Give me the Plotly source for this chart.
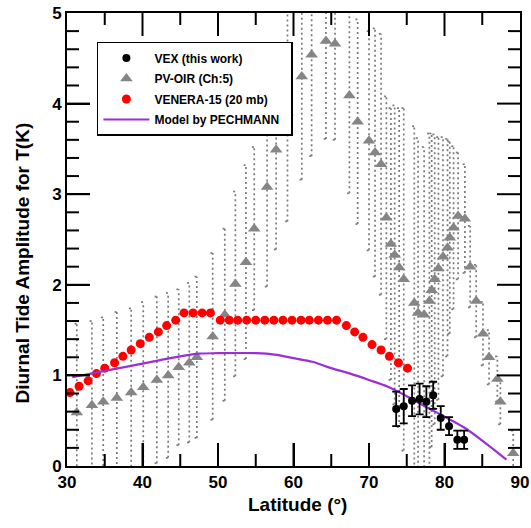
import plotly.graph_objects as go

# ---------------- data ----------------
# PV-OIR (Ch:5): latitude, amplitude, (symmetric) uncertainty
pv_lat = [31.3, 33.3, 34.8, 36.6, 38.5, 40.1, 41.9, 43.4, 44.8, 46.2, 47.2, 49.3, 50.9, 52.3,
          53.7, 54.8, 56.5, 57.7, 59.2, 61.1, 62.4, 64.3, 65.5, 67.4, 68.5, 70.0, 70.8, 71.6,
          72.3, 72.9, 73.4, 74.0, 74.6, 76.0, 76.5, 77.3, 78.0, 78.3, 78.7, 79.2, 79.8, 80.4,
          80.7, 81.2, 81.8, 82.7, 83.4, 84.2, 85.1, 85.9, 87.0, 87.4, 89.1]
pv_amp = [0.59, 0.67, 0.71, 0.75, 0.81, 0.87, 0.95, 1.00, 1.09, 1.14, 1.20, 1.43, 1.67, 2.01,
          2.25, 2.62, 3.08, 3.49, 3.90, 4.30, 4.54, 4.69, 4.66, 4.09, 3.80, 3.59, 3.46, 3.33,
          2.74, 2.45, 2.33, 2.19, 2.06, 1.80, 1.69, 1.67, 1.82, 1.94, 2.06, 2.18, 2.31, 2.41,
          2.52, 2.63, 2.76, 2.73, 2.20, 1.82, 1.46, 1.20, 0.96, 0.71, 0.14]
pv_err = [0.98, 0.93, 0.93, 0.95, 0.93, 0.94, 0.92, 0.91, 0.86, 0.88, 0.89, 0.92, 0.95, 1.02,
          1.07, 0.90, 1.10, 1.10, 1.20, 1.14, 1.12, 1.08, 1.06, 1.08, 1.13, 1.21, 1.37, 1.44,
          1.34, 1.50, 1.65, 1.76, 1.89, 1.95, 1.93, 1.85, 1.85, 1.73, 1.60, 1.45, 1.32, 1.20,
          1.06, 0.90, 0.70, 0.60, 0.45, 0.40, 0.35, 0.30, 0.25, 0.25, 0.25]

# VENERA-15 (20 mb)
ven_lat = [30.4, 31.6, 32.8, 33.9, 35.0, 36.3, 37.4, 38.5, 39.7, 40.9, 42.1, 43.2, 44.4, 45.5,
           46.7, 47.9, 49.0, 50.3, 51.5, 52.6, 53.8, 55.0, 56.2, 57.4, 58.6, 59.8, 61.0, 62.1,
           63.3, 64.5, 65.7, 67.0, 68.1, 69.2, 70.4, 71.6, 72.7, 73.9, 75.1]
ven_amp = [0.81, 0.88, 0.94, 1.02, 1.08, 1.14, 1.21, 1.28, 1.35, 1.42, 1.48, 1.55, 1.61, 1.69,
           1.69, 1.69, 1.69, 1.61, 1.61, 1.61, 1.61, 1.61, 1.61, 1.61, 1.61, 1.61, 1.61, 1.61,
           1.61, 1.61, 1.61, 1.55, 1.48, 1.42, 1.34, 1.28, 1.21, 1.14, 1.08]

# Model by PECHMANN
mod_lat = [30.7, 35.0, 40.0, 45.0, 47.5, 50.0, 55.0, 57.5, 60.0, 62.5, 65.0, 67.5, 70.0,
           72.5, 75.0, 77.5, 80.0, 82.5, 85.0, 88.2]
mod_amp = [0.98, 1.05, 1.13, 1.21, 1.24, 1.245, 1.245, 1.23, 1.19, 1.15, 1.08, 1.02, 0.95,
           0.875, 0.77, 0.655, 0.545, 0.43, 0.28, 0.07]

# VEX (this work)
vex_lat = [73.6, 74.6, 75.7, 76.7, 77.6, 78.5, 79.5, 80.6, 81.7, 82.6]
vex_amp = [0.63, 0.66, 0.72, 0.74, 0.71, 0.78, 0.53, 0.44, 0.29, 0.29]
vex_err = [0.19, 0.19, 0.17, 0.17, 0.17, 0.15, 0.13, 0.10, 0.10, 0.10]

x_ticks = [30, 40, 50, 60, 70, 80, 90]
y_ticks = [0, 1, 2, 3, 4, 5]
x_minor_step = 5
y_minor_step = 0.2
X_RANGE = [30, 90]
Y_RANGE = [0, 5]
FONT = "Liberation Sans"

W, H = 531, 528
M = dict(l=67, r=11, t=13, b=62)
PW = W - M["l"] - M["r"]
PH = H - M["t"] - M["b"]
MAJOR_LEN, MINOR_LEN = 23, 12

# ---------------- figure ----------------
fig = go.Figure()

# dotted error bars of PV-OIR (built from the data arrays)
bx, by = [], []
cap = 0.3
for la, am, er in zip(pv_lat, pv_amp, pv_err):
    lo, hi = am - er, am + er
    bx += [la, la, None, la - cap, la + cap, None, la - cap, la + cap, None]
    by += [lo, hi, None, lo, lo, None, hi, hi, None]
fig.add_trace(go.Scatter(x=bx, y=by, mode="lines", showlegend=False, hoverinfo="skip",
                         line=dict(color="#7a7a7a", width=1.7, dash="2px,3px")))

fig.add_trace(go.Scatter(x=pv_lat, y=pv_amp, mode="markers", name="<b>PV-OIR (Ch:5)</b>",
                         legendrank=2, legendgroup="b",
                         marker=dict(symbol="triangle-up", size=11, color="#858585")))

fig.add_trace(go.Scatter(x=ven_lat, y=ven_amp, mode="markers",
                         name="<b>VENERA-15 (20 mb)</b>",
                         legendrank=3, legendgroup="c",
                         marker=dict(symbol="circle", size=9, color="#FF0000")))

fig.add_trace(go.Scatter(x=mod_lat, y=mod_amp, mode="lines",
                         name="<b>Model by PECHMANN</b>\u00a0\u00a0",
                         legendrank=4, legendgroup="d",
                         line=dict(color="#9B2FD6", width=2.2, shape="spline")))

fig.add_trace(go.Scatter(x=vex_lat, y=vex_amp, mode="markers", name="<b>VEX (this work)</b>",
                         legendrank=1, legendgroup="a",
                         marker=dict(symbol="circle", size=8, color="black"),
                         error_y=dict(type="data", array=vex_err, visible=True,
                                      color="black", thickness=1.8, width=4)))

tickfont = dict(family=FONT, size=17, color="black")
NOGRID = "rgba(0,0,0,0)"

fig.update_layout(
    template="none",
    width=W, height=H, margin=M,
    paper_bgcolor="white", plot_bgcolor="white",
    xaxis=dict(range=X_RANGE, tickmode="array", tickvals=x_ticks,
               ticktext=[f"<b>{v}</b>" for v in x_ticks],
               showline=True, linecolor="black", linewidth=2, mirror=True,
               ticks="inside", ticklen=MAJOR_LEN, tickwidth=2, tickcolor="black",
               gridcolor=NOGRID, zerolinecolor="black", tickfont=tickfont),
    yaxis=dict(range=Y_RANGE, tickmode="array", tickvals=y_ticks,
               ticktext=[f"<b>{v}</b>" for v in y_ticks],
               showline=True, linecolor="black", linewidth=2, mirror=True,
               ticks="inside", ticklen=MAJOR_LEN, tickwidth=2, tickcolor="black",
               gridcolor=NOGRID, zerolinecolor="black", tickfont=tickfont),
    legend=dict(x=0.066, y=0.936, xanchor="left", yanchor="top",
                bgcolor="white", bordercolor="black", borderwidth=1.5,
                font=dict(family=FONT, size=12, color="black"),
                itemwidth=46, tracegroupgap=1.5, traceorder="grouped"),
)

# ---- inside tick marks on all four sides (positions taken from the tick arrays) ----
tick_line = dict(color="black", width=2)
xmaj = [v for v in x_ticks if X_RANGE[0] < v < X_RANGE[1]]
ymaj = [v for v in y_ticks if Y_RANGE[0] < v < Y_RANGE[1]]
xmin = []
v = X_RANGE[0] + x_minor_step
while v < X_RANGE[1] - 1e-9:
    if all(abs(v - m) > 1e-9 for m in x_ticks):
        xmin.append(round(v, 6))
    v += x_minor_step
ymin = []
n = 1
while Y_RANGE[0] + n * y_minor_step < Y_RANGE[1] - 1e-9:
    val = round(Y_RANGE[0] + n * y_minor_step, 6)
    if all(abs(val - m) > 1e-9 for m in y_ticks):
        ymin.append(val)
    n += 1

for vals, length in ((xmaj, MAJOR_LEN), (xmin, MINOR_LEN)):
    f = length / PH
    for xv in vals:
        fig.add_shape(type="line", xref="x", yref="paper", x0=xv, x1=xv, y0=0, y1=f,
                      line=tick_line, layer="above")
        fig.add_shape(type="line", xref="x", yref="paper", x0=xv, x1=xv, y0=1, y1=1 - f,
                      line=tick_line, layer="above")
for vals, length in ((ymaj, MAJOR_LEN), (ymin, MINOR_LEN)):
    f = length / PW
    for yv in vals:
        fig.add_shape(type="line", xref="paper", yref="y", x0=0, x1=f, y0=yv, y1=yv,
                      line=tick_line, layer="above")
        fig.add_shape(type="line", xref="paper", yref="y", x0=1, x1=1 - f, y0=yv, y1=yv,
                      line=tick_line, layer="above")

fig.add_annotation(text="<b>Diurnal Tide Amplitude for T(K)</b>", xref="paper", yref="paper",
                   x=-0.0993, y=0.447, textangle=-90, showarrow=False,
                   xanchor="center", yanchor="middle",
                   font=dict(family=FONT, size=19, color="black"))
fig.add_annotation(text="<b>Latitude (°)</b>", xref="paper", yref="paper",
                   x=0.508, y=-0.086, showarrow=False, xanchor="center", yanchor="middle",
                   font=dict(family=FONT, size=19, color="black"))

fig.write_html("out.html")
